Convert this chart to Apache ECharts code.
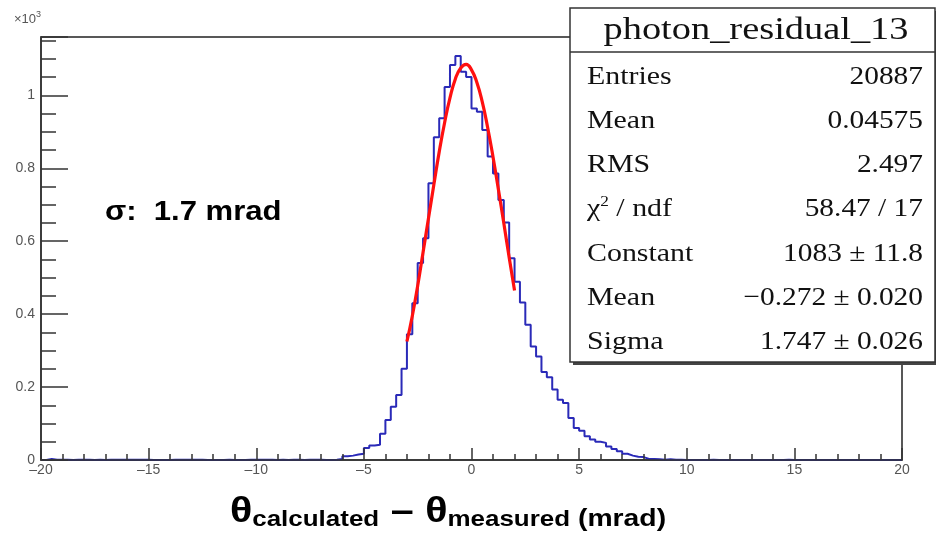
<!DOCTYPE html>
<html><head><meta charset="utf-8">
<script src="https://cdn.jsdelivr.net/npm/echarts@6/dist/echarts.min.js"></script>
<style>html,body{margin:0;padding:0;background:#fff}#c{width:936px;height:533px}</style>
</head><body><div id="c"></div>
<script>
// Histogram: 160 bins of width 0.25 from -20 to 20
const binStart = -20;
const binWidth = 0.25;
const counts = [
  0, 3, 1, 1, 1, 0, 1, 1, 1, 0,
  1, 0, 1, 1, 1, 1, 1, 1, 1, 1,
  0, 0, 0, 0, 1, 1, 1, 1, 1, 1,
  0, 0, 0, 0, 1, 0, 0, 0, 1, 1,
  1, 1, 1, 0, 1, 0, 1, 1, 0, 1,
  1, 1, 0, 0, 1, 3, 10, 12, 15, 17,
  33, 40, 42, 72, 110, 146, 178, 250, 345, 430,
  540, 608, 759, 885, 937, 1023, 1083, 1108, 1065, 1050,
  964, 955, 905, 832, 786, 713, 651, 553, 489, 432,
  371, 311, 284, 241, 227, 193, 165, 156, 115, 88,
  80, 65, 56, 50, 47, 37, 30, 24, 17, 12,
  9, 8, 3, 3, 2, 1, 2, 1, 1, 0,
  0, 0, 0, 0, 1, 0, 0, 0, 0, 0,
  0, 0, 0, 0, 0, 0, 0, 0, 1, 0,
  0, 0, 0, 0, 0, 0, 0, 0, 0, 0,
  0, 0, 0, 0, 0, 0, 0, 0, 0, 0
];
// Gaussian fit curve
const fitX = [-3, -2.75, -2.5, -2.25, -2, -1.75, -1.5, -1.25, -1, -0.75, -0.5, -0.25, 0, 0.25, 0.5, 0.75, 1, 1.25, 1.5, 1.75, 2];
const fitY = [325, 395, 478, 570, 662, 755, 845, 925, 993, 1045, 1075, 1085, 1070, 1035, 982, 912, 831, 742, 650, 555, 465];
// Stats box
const statsTitle = 'photon_residual_13';
const statsLabels = ['Entries', 'Mean', 'RMS', 'χ{sup|2} / ndf', 'Constant', 'Mean', 'Sigma'];
const statsValues = ['20887', '0.04575', '2.497', '58.47 / 17', '1083 ± 11.8', '−0.272 ± 0.020', '1.747 ± 0.026'];
const sigmaNote = 'σ:  1.7 mrad';

const histData = counts.map((c, i) => [binStart + i * binWidth, c]);
histData.push([binStart + counts.length * binWidth, counts[counts.length - 1]]);
const fitData = fitX.map((x, i) => [x, fitY[i]]);

const chart = echarts.init(document.getElementById('c'));
const serif = '"Liberation Serif", "DejaVu Serif", serif';
const sans = '"Liberation Sans", Arial, sans-serif';
const rowY0 = 77, rowDy = 44.2;
const statGraphics = [];
statsLabels.forEach((l, i) => {
  statGraphics.push({type: 'text', x: 587, y: rowY0 + i * rowDy, scaleX: 1.15,
    style: {text: l, font: '26px ' + serif, fill: '#111', textAlign: 'left', textVerticalAlign: 'middle',
      rich: {sup: {fontSize: 15, fontFamily: serif, verticalAlign: 'top', lineHeight: 30, fill: '#111'}}}});
  statGraphics.push({type: 'text', x: 923, y: rowY0 + i * rowDy, scaleX: 1.13,
    style: {text: statsValues[i], font: '26px ' + serif, fill: '#111', textAlign: 'right', textVerticalAlign: 'middle'}});
});

chart.setOption({
  animation: false,
  grid: {left: 41, right: 34, top: 37, bottom: 73, show: true, borderColor: '#222', borderWidth: 1.5, backgroundColor: 'transparent'},
  xAxis: {
    type: 'value', min: -20, max: 20, interval: 5, z: 5,
    axisLine: {show: true, onZero: false, lineStyle: {color: '#333', width: 1.5}},
    axisTick: {show: true, inside: true, length: 12, lineStyle: {color: '#333', width: 1.5}},
    minorTick: {show: true, splitNumber: 5, length: 6, lineStyle: {color: '#333', width: 1.5}},
    splitLine: {show: false},
    axisLabel: {margin: 3, color: '#555', fontSize: 14, fontFamily: sans,
      formatter: v => String(v).replace('-', '–')}
  },
  yAxis: {
    type: 'value', min: 0, max: 1160, interval: 200, z: 5,
    axisLine: {show: true, onZero: false, lineStyle: {color: '#333', width: 1.5}},
    axisTick: {show: true, inside: true, length: 27, lineStyle: {color: '#333', width: 1.5}},
    minorTick: {show: true, splitNumber: 4, length: 15, lineStyle: {color: '#333', width: 1.5}},
    splitLine: {show: false},
    axisLabel: {margin: 6, color: '#555', fontSize: 14, fontFamily: sans, showMaxLabel: false,
      formatter: v => String(v / 1000)}
  },
  series: [
    {type: 'line', data: histData, step: 'end', symbol: 'none', z: 2,
      lineStyle: {color: '#2a2ab8', width: 2}},
    {type: 'line', data: fitData, smooth: true, symbol: 'none', z: 3,
      lineStyle: {color: '#ff1010', width: 3.2}}
  ],
  graphic: [
    {type: 'text', x: 14, y: 19, z: 10,
      style: {text: '×10{sup|3}', font: '13px ' + sans, fill: '#555', textAlign: 'left', textVerticalAlign: 'middle',
        rich: {sup: {fontSize: 9, verticalAlign: 'top', lineHeight: 18, fill: '#555', fontFamily: sans}}}},
    {type: 'text', x: 105, y: 213, scaleX: 1.15, z: 10,
      style: {text: sigmaNote, font: 'bold 27px ' + sans, fill: '#000', textAlign: 'left', textVerticalAlign: 'middle'}},
    {type: 'rect', z: 19, shape: {x: 573, y: 11, width: 365, height: 354}, style: {fill: '#444', stroke: null}},
    {type: 'rect', z: 20, shape: {x: 570, y: 8, width: 365, height: 354}, style: {fill: '#fff', stroke: '#333', lineWidth: 1.5}},
    {type: 'line', z: 21, shape: {x1: 570, y1: 52, x2: 935, y2: 52}, style: {stroke: '#333', lineWidth: 1.5}},
    {type: 'text', x: 756, y: 31, scaleX: 1.2, z: 21,
      style: {text: statsTitle, font: '32px ' + serif, fill: '#111', textAlign: 'center', textVerticalAlign: 'middle'}},
    ...statGraphics.map(g => Object.assign(g, {z: 21})),
    {type: 'text', x: 448, y: 513, scaleX: 1.18, z: 10,
      style: {text: '{t|θ}{s|calculated}{m| – }{t|θ}{s|measured}{p| (mrad)}', textAlign: 'center', textVerticalAlign: 'middle',
        rich: {
          t: {fontSize: 35, fontWeight: 'bold', fontFamily: sans, fill: '#000', lineHeight: 36, verticalAlign: 'top'},
          m: {fontSize: 35, fontWeight: 'bold', fontFamily: sans, fill: '#000', lineHeight: 36, verticalAlign: 'top'},
          s: {fontSize: 22, fontWeight: 'bold', fontFamily: sans, fill: '#000', lineHeight: 22, padding: [20, 0, 0, 0], verticalAlign: 'bottom'},
          p: {fontSize: 24, fontWeight: 'bold', fontFamily: sans, fill: '#000', lineHeight: 24, padding: [16, 0, 0, 0], verticalAlign: 'bottom'}
        }}}
  ]
});
</script>
</body></html>
